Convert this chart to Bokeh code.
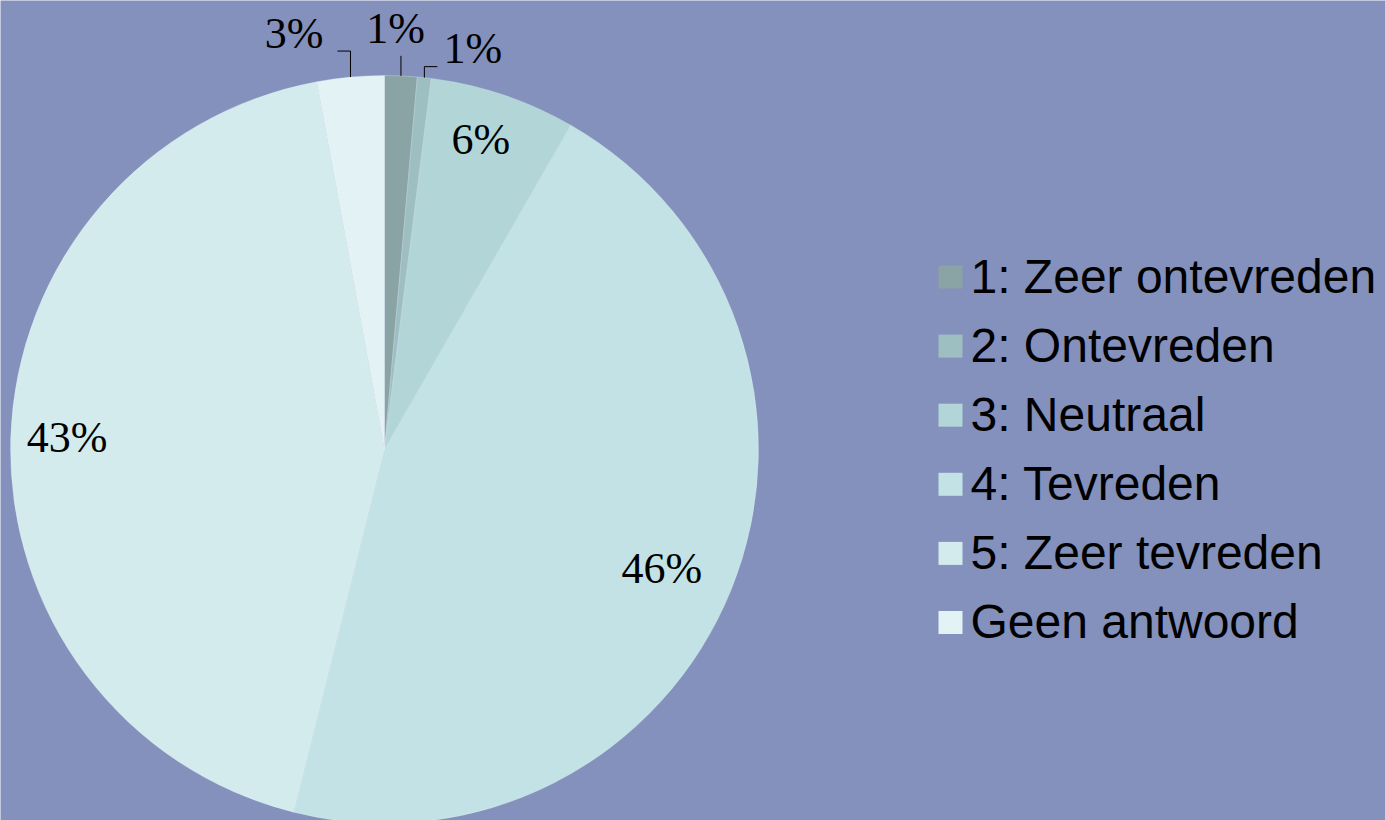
import math
from bokeh.plotting import figure
from bokeh.models import Range1d, ColumnDataSource
from bokeh.core.properties import value
from bokeh.embed import file_html
from bokeh.resources import INLINE

# ---- data ----
categories = ["1: Zeer ontevreden", "2: Ontevreden", "3: Neutraal",
              "4: Tevreden", "5: Zeer tevreden", "Geen antwoord"]
shares = [1.4, 0.6, 6.3, 45.6, 43.2, 2.9]
colors = ["#8AA3A5", "#9DBFC1", "#B2D5D8", "#C2E2E5", "#D3EBED", "#E2F2F5"]

# ---- layout (pixels; 1 data unit == 1 screen pixel) ----
W, H = 1385, 820
CX, CY = 384, 449           # pie centre, from left / top of figure
R = 374
label_r = [1.127, 1.099, 0.868, 0.807, 0.849, 1.138]       # fraction of radius
label_shift = [-1.0, 6.3, -1.3, 1.3, 0.3, -7.05]           # degrees clockwise
leader_up = [20, 11, 0, 0, 0, 26]
leader_side = [0, 13, 0, 0, 0, -13]
LEG_SQ_X, LEG_TXT_X, LEG_TOP, LEG_STEP = 566, 586, 172.5, 69.1
BG = "#8491BC"

p = figure(width=W, height=H, output_backend="svg", toolbar_location=None,
           x_range=Range1d(-CX, W - CX), y_range=Range1d(-(H - CY), CY),
           x_axis_location=None, y_axis_location=None, min_border=0)
p.background_fill_color = BG
p.border_fill_color = BG
p.outline_line_color = None
p.xgrid.visible = False
p.ygrid.visible = False

total = float(sum(shares))
cum = [0.0]
for s in shares:
    cum.append(cum[-1] + s)
theta0 = [2 * math.pi * c / total for c in cum[:-1]]
theta1 = [2 * math.pi * c / total for c in cum[1:]]
mid = [(a + b) / 2 for a, b in zip(theta0, theta1)]

src = ColumnDataSource(dict(
    start=[math.pi / 2 - b for b in theta1],
    end=[math.pi / 2 - a for a in theta0],
    color=colors,
    cat=categories,
))
p.wedge(x=0, y=0, radius=R, start_angle="start", end_angle="end",
        fill_color="color", line_color="#E8F4F8", line_alpha=0.35,
        line_width=0.8, source=src)

# percentage labels
lx, ly, lt = [], [], []
for i, s in enumerate(shares):
    a = mid[i] + math.radians(label_shift[i])
    lx.append(R * label_r[i] * math.sin(a))
    ly.append(R * label_r[i] * math.cos(a))
    lt.append(f"{round(s / total * 100)}%")
p.text(x=lx, y=ly, text=lt, text_font=value("Liberation Serif"),
       text_font_size="44px", text_color="black",
       text_align="center", text_baseline="middle")

# leader lines
xs, ys = [], []
for i in range(len(shares)):
    if leader_up[i] > 0:
        ex, ey = R * math.sin(mid[i]), R * math.cos(mid[i])
        px = [ex, ex]
        py = [ey, ey + leader_up[i]]
        if leader_side[i] != 0:
            px.append(ex + leader_side[i])
            py.append(ey + leader_up[i])
        xs.append(px)
        ys.append(py)
p.multi_line(xs=xs, ys=ys, line_color="black", line_width=1)

# legend
row_y = [LEG_TOP - i * LEG_STEP for i in range(len(categories))]
p.rect(x=[LEG_SQ_X] * len(categories), y=row_y, width=24, height=23,
       fill_color=colors, line_color=None)
p.text(x=[LEG_TXT_X] * len(categories), y=[v + 1 for v in row_y], text=categories,
       text_font=value("Liberation Sans"), text_font_size="48px",
       text_color="black", text_align="left", text_baseline="middle")

open("out.html", "w").write(file_html(p, INLINE))
